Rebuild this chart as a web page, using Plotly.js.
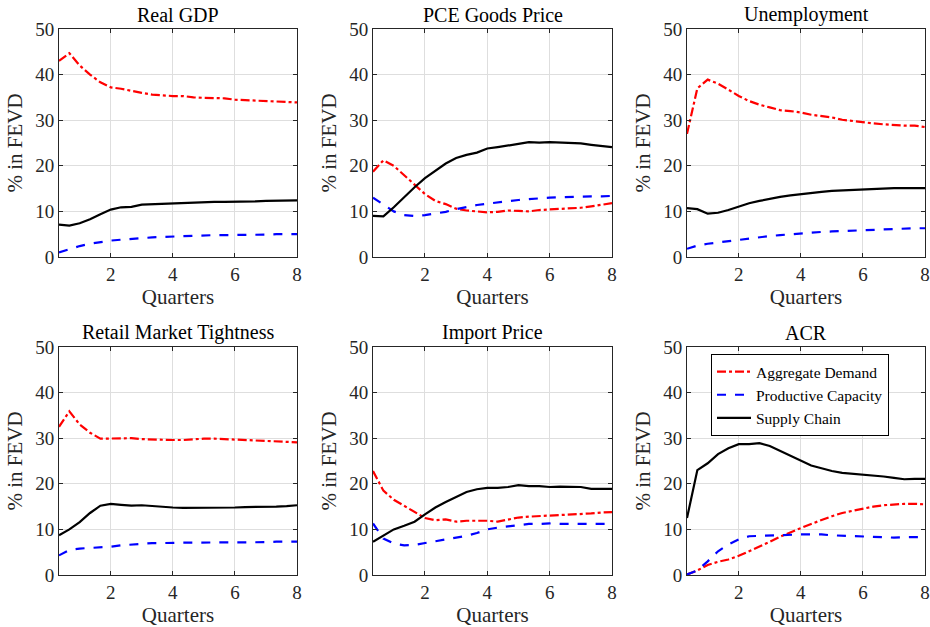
<!DOCTYPE html>
<html>
<head>
<meta charset="utf-8">
<script src="https://cdn.plot.ly/plotly-3.0.1.min.js"></script>
<style>html,body{margin:0;padding:0;background:#fff;}#chart{width:930px;height:627px;}</style>
</head>
<body>
<div id="chart"></div>
<script>
// Horizon in quarters (monthly steps)
const quarters = [1/3,2/3,1,4/3,5/3,2,7/3,8/3,3,10/3,11/3,4,13/3,14/3,5,16/3,17/3,6,19/3,20/3,7,22/3,23/3,8];

const panelTitles = ["Real GDP","PCE Goods Price","Unemployment","Retail Market Tightness","Import Price","ACR"];
const seriesNames = ["Aggregate Demand","Productive Capacity","Supply Chain"];

// Real GDP
const gdpAD = [43.0,44.7,42.0,40.0,38.3,37.2,36.9,36.4,36.0,35.6,35.4,35.3,35.3,35.0,34.9,34.9,34.8,34.5,34.4,34.3,34.1,34.0,34.0,33.9];
const gdpPC = [1.0,1.7,2.4,2.9,3.3,3.6,3.8,4.0,4.1,4.3,4.4,4.5,4.6,4.7,4.7,4.8,4.8,4.8,4.9,4.9,4.9,5.0,5.0,5.0];
const gdpSC = [7.1,6.9,7.4,8.3,9.4,10.4,10.9,11.0,11.5,11.6,11.7,11.8,11.9,12.0,12.1,12.1,12.1,12.1,12.2,12.2,12.3,12.3,12.3,12.4];

// PCE Goods Price
const pceAD = [18.7,21.2,20.0,18.0,15.8,13.8,12.3,11.6,10.6,10.2,10.0,9.8,9.9,10.2,10.1,10.0,10.3,10.4,10.5,10.6,10.8,11.1,11.4,11.8];
const pcePC = [13.0,11.5,10.0,9.2,9.0,9.2,9.5,9.9,10.5,11.0,11.4,11.7,12.0,12.3,12.5,12.7,12.9,13.0,13.1,13.2,13.2,13.3,13.3,13.4];
const pceSC = [9.0,8.9,10.9,13.2,15.3,17.3,19.0,20.5,21.7,22.4,22.9,23.8,24.1,24.4,24.8,25.2,25.1,25.2,25.1,24.9,24.9,24.6,24.4,24.1];

// Unemployment
const unAD = [27.0,37.0,38.9,38.0,36.7,35.3,34.2,33.4,32.8,32.2,32.0,31.7,31.2,30.9,30.6,30.1,29.8,29.5,29.3,29.1,28.9,28.8,28.8,28.5];
const unPC = [1.8,2.5,2.9,3.2,3.5,3.7,4.0,4.3,4.6,4.8,5.0,5.1,5.3,5.5,5.6,5.7,5.8,5.9,6.0,6.1,6.2,6.2,6.3,6.3];
const unSC = [10.7,10.5,9.5,9.7,10.3,11.0,11.8,12.3,12.8,13.2,13.5,13.8,14.0,14.3,14.5,14.6,14.8,14.9,15.0,15.0,15.1,15.1,15.1,15.1];

// Retail Market Tightness
const rmtAD = [32.5,35.9,33.0,31.2,29.9,29.9,29.9,30.0,29.8,29.7,29.6,29.6,29.6,29.8,29.9,29.9,29.8,29.7,29.6,29.5,29.5,29.4,29.3,29.1];
const rmtPC = [4.3,5.5,5.8,5.9,6.0,6.2,6.5,6.7,6.9,7.0,7.0,7.1,7.1,7.1,7.1,7.1,7.1,7.1,7.2,7.2,7.2,7.3,7.3,7.3];
const rmtSC = [8.7,10.0,11.6,13.6,15.2,15.6,15.4,15.2,15.3,15.1,14.9,14.8,14.7,14.7,14.8,14.8,14.8,14.8,14.9,14.9,15.0,15.0,15.1,15.3];

// Import Price
const impAD = [22.8,18.5,16.5,15.2,13.8,12.5,12.0,12.2,11.7,11.9,11.9,11.9,11.7,12.2,12.6,12.8,12.9,13.0,13.2,13.3,13.3,13.5,13.7,13.8];
const impPC = [11.3,8.0,6.9,6.5,6.6,7.0,7.3,7.7,8.2,8.6,9.2,10.0,10.4,10.7,11.0,11.2,11.2,11.3,11.2,11.2,11.2,11.2,11.2,11.2];
const impSC = [7.3,8.6,10.0,10.8,11.7,13.3,14.8,16.0,17.1,18.2,18.8,19.1,19.1,19.3,19.7,19.5,19.5,19.3,19.4,19.3,19.3,18.9,18.9,18.9];

// ACR
const acrAD = [0.1,1.0,2.2,2.9,3.4,4.2,5.2,6.2,7.3,8.4,9.4,10.3,11.2,12.1,12.9,13.6,14.1,14.5,15.0,15.3,15.5,15.6,15.6,15.5];
const acrPC = [0.1,1.0,3.0,5.2,6.7,7.8,8.5,8.6,8.7,8.8,8.9,8.9,8.9,8.9,8.7,8.6,8.5,8.4,8.3,8.3,8.2,8.3,8.3,8.3];
const acrSC = [12.5,23.0,24.5,26.5,27.8,28.7,28.7,28.9,28.3,27.2,26.1,25.0,24.0,23.4,22.8,22.4,22.2,22.0,21.9,21.6,21.3,21.0,21.1,21.1];

const xTicks = [2,4,6,8];
const yTicks = [0,10,20,30,40,50];

const panels = [
  [gdpAD,gdpPC,gdpSC],[pceAD,pcePC,pceSC],[unAD,unPC,unSC],
  [rmtAD,rmtPC,rmtSC],[impAD,impPC,impSC],[acrAD,acrPC,acrSC]
];

const styles = [
  {color:"#ff0000", dash:"dashdot"},
  {color:"#0000ff", dash:"dash"},
  {color:"#000000", dash:"solid"}
];

const W = 930, H = 627;
const xDomPx = [[59,297],[373,612],[687,925]];
const yDomPx = [[29,257],[347,575]];

const FONT = "Liberation Serif, Times New Roman, serif";
const AX = "#262626";

const traces = [];
const layout = {
  width: W, height: H,
  margin: {l:0,r:0,t:0,b:0},
  paper_bgcolor: "#ffffff",
  plot_bgcolor: "#ffffff",
  font: {family: FONT, color: AX, size: 19},
  showlegend: true,
  legend: {
    x: 711/W, y: 1 - 354/H, xanchor: "left", yanchor: "top",
    bgcolor: "#ffffff", bordercolor: "#000000", borderwidth: 1,
    font: {family: FONT, size: 15.5, color: "#000000"},
    tracegroupgap: 0, itemwidth: 34,
    entrywidth: 160, entrywidthmode: "pixels"
  },
  annotations: []
};

panels.forEach((p, i) => {
  const r = Math.floor(i/3), c = i % 3;
  const n = i + 1;
  const xa = "x" + (n === 1 ? "" : n), ya = "y" + (n === 1 ? "" : n);
  p.forEach((vals, s) => {
    traces.push({
      type: "scatter", mode: "lines",
      x: quarters, y: vals,
      xaxis: xa, yaxis: ya,
      name: seriesNames[s],
      showlegend: i === 5,
      line: {color: styles[s].color, dash: styles[s].dash, width: 2.2}
    });
  });
  const xd = [xDomPx[c][0]/W, xDomPx[c][1]/W];
  const yd = [1 - yDomPx[r][1]/H, 1 - yDomPx[r][0]/H];
  const common = {
    showline: true, linecolor: AX, linewidth: 1, mirror: "ticks",
    ticks: "inside", ticklen: 4, tickcolor: AX, tickwidth: 1,
    showgrid: true, gridcolor: "#dedede", gridwidth: 1,
    zeroline: false, fixedrange: true,
    tickfont: {family: FONT, size: 19, color: AX}
  };
  layout["xaxis" + (n === 1 ? "" : n)] = Object.assign({}, common, {
    domain: xd, anchor: ya, range: [1/3, 8],
    tickmode: "array", tickvals: xTicks, ticktext: xTicks.map(String),
    title: {text: "Quarters", font: {family: FONT, size: 21, color: AX}, standoff: 4}
  });
  layout["yaxis" + (n === 1 ? "" : n)] = Object.assign({}, common, {
    domain: yd, anchor: xa, range: [0, 50],
    tickmode: "array", tickvals: yTicks, ticktext: yTicks.map(String),
    title: {text: "% in FEVD", font: {family: FONT, size: 21, color: AX}, standoff: 6}
  });
  layout.annotations.push({
    text: panelTitles[i], showarrow: false,
    xref: "paper", yref: "paper",
    x: (xd[0] + xd[1]) / 2, y: yd[1], xanchor: "center", yanchor: "bottom", yshift: 1,
    font: {family: FONT, size: 20, color: "#000000"}
  });
});

Plotly.newPlot("chart", traces, layout, {displayModeBar: false, staticPlot: true});
</script>
</body>
</html>
